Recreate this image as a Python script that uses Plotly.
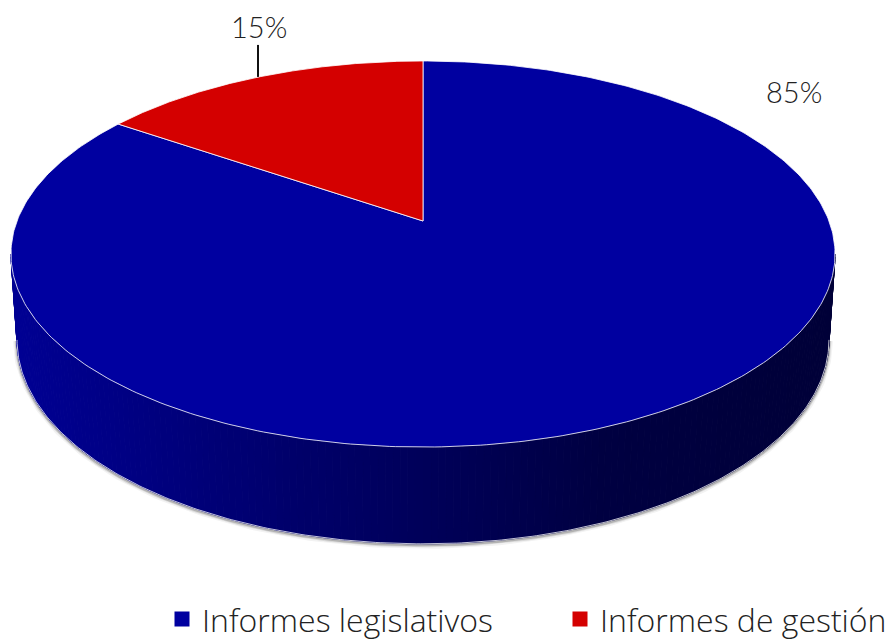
import numpy as np
import plotly.graph_objects as go

categories = ["Informes legislativos", "Informes de gestión"]
shares = [84.6, 15.4]
share_labels = ["85%", "15%"]
slice_colors = ["#0000A0", "#D40000"]
side_stops_x = [13, 150, 300, 423, 600, 835]
side_stops_rgb_blue = [148, 128, 106, 90, 66, 56]

# Perspective of the disc: (x0, y0, R, S, k)
TOP = (423.0, 221.0, 406.0, 187.4, 0.171)
BOT = (423.0, 305.0, 400.0, 198.0, 0.171)


def proj(p, u, v):
    x0, y0, R, S, k = p
    w = 1 + k * v
    return x0 + R * u / w, y0 - S * v / w


def ring(p, a0, a1, n=200):
    # angles measured clockwise from the far point of the disc, in degrees
    a = np.radians(np.linspace(a0, a1, n))
    return proj(p, np.sin(a), np.cos(a))


fig = go.Figure()
a_t = np.degrees(np.arccos(-TOP[4]))  # where the silhouette of the disc is widest
start, stop = a_t, 360 - a_t

# Soft shadow beneath the side wall
bx, by = ring(BOT, start, stop, 300)
for width, col in [(8, "rgba(0,0,0,0.05)"), (5, "rgba(0,0,0,0.10)"), (3, "rgba(0,0,0,0.18)")]:
    fig.add_trace(go.Scatter(x=bx, y=by + 1, mode="lines", line=dict(color=col, width=width),
                             hoverinfo="skip", showlegend=False))

# Side wall of the drum, shaded strip by strip
edges = np.linspace(start, stop, 181)
for a0, a1 in zip(edges[:-1], edges[1:]):
    tx, ty = ring(TOP, a0, a1, 3)
    qx, qy = ring(BOT, a1, a0, 3)
    xs = np.r_[tx, qx, tx[0]]
    ys = np.r_[ty, qy, ty[0]]
    blue = int(np.interp(xs.mean(), side_stops_x, side_stops_rgb_blue))
    col = f"rgb(0,0,{blue})"
    fig.add_trace(go.Scatter(x=xs, y=ys, mode="lines", fill="toself", fillcolor=col,
                             line=dict(color=col, width=1), hoverinfo="skip", showlegend=False))

fig.add_trace(go.Scatter(x=bx, y=by, mode="lines", line=dict(color="rgba(255,255,255,0.75)", width=1),
                         hoverinfo="skip", showlegend=False))

# Top face: slices run clockwise starting from the far point, the first one first
angles = np.cumsum([0] + shares) / sum(shares) * 360
for i, (name, col) in enumerate(zip(categories, slice_colors)):
    sx, sy = ring(TOP, angles[i], angles[i + 1], 400)
    xs = np.r_[TOP[0], sx, TOP[0]]
    ys = np.r_[TOP[1], sy, TOP[1]]
    fig.add_trace(go.Scatter(x=xs, y=ys, mode="lines", fill="toself", fillcolor=col,
                             line=dict(color="rgba(255,255,255,0.8)", width=1),
                             hoverinfo="skip", showlegend=False))

# Leader line of the small slice
mid = np.radians((angles[1] + angles[2]) / 2)
lx, ly = proj(TOP, np.sin(mid), np.cos(mid))
fig.add_trace(go.Scatter(x=[lx - 1, lx - 1], y=[ly, ly - 32], mode="lines",
                         line=dict(color="#111111", width=2), hoverinfo="skip", showlegend=False))

# Legend entries
for name, col, lg in zip(categories, slice_colors, ["legend", "legend2"]):
    fig.add_trace(go.Scatter(x=[None], y=[None], mode="markers", name=name, legend=lg,
                             marker=dict(color=col, size=15, symbol="square")))

NUM_FONT = dict(family="Lato", weight=300, size=29, color="#222222")
LEG_FONT = dict(family="Open Sans", weight=300, size=32, color="#222222")
fig.add_annotation(x=794, y=91.5, text=share_labels[0], showarrow=False, font=NUM_FONT)
fig.add_annotation(x=258.5, y=26, text=share_labels[1], showarrow=False, font=NUM_FONT)

fig.update_layout(
    width=891, height=641, margin=dict(l=0, r=0, t=0, b=0, autoexpand=False),
    paper_bgcolor="white", plot_bgcolor="white",
    xaxis=dict(range=[0, 891], visible=False, fixedrange=True),
    yaxis=dict(range=[641, 0], visible=False, fixedrange=True),
    legend=dict(x=162 / 891, y=-0.009, xanchor="left", yanchor="bottom", font=LEG_FONT,
                bgcolor="rgba(0,0,0,0)"),
    legend2=dict(x=560 / 891, y=-0.009, xanchor="left", yanchor="bottom", font=LEG_FONT,
                 bgcolor="rgba(0,0,0,0)"),
)
fig.write_html("out.html", post_script="document.body.style.margin='0';",
               config=dict(displayModeBar=False))
